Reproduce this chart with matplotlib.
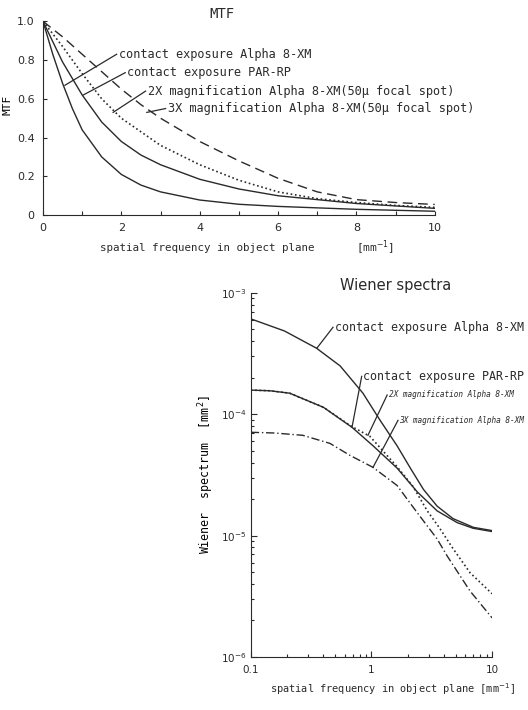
import numpy as np
import matplotlib
matplotlib.use('Agg')
import matplotlib.pyplot as plt
from matplotlib.ticker import FixedLocator, FuncFormatter, LogLocator, NullFormatter

# ---- MTF ----
f_a = [0, 0.25, 0.5, 0.75, 1, 1.5, 2, 2.5, 3, 4, 5, 6, 8, 10]
mtf_a = [1.0, 0.83, 0.68, 0.55, 0.44, 0.30, 0.21, 0.155, 0.12, 0.078, 0.056, 0.045, 0.03, 0.02]

f_b = [0, 0.5, 1, 1.5, 2, 2.5, 3, 4, 5, 6, 7, 8, 10]
mtf_b = [1.0, 0.79, 0.62, 0.48, 0.38, 0.31, 0.26, 0.185, 0.135, 0.10, 0.08, 0.06, 0.035]

f_c = [0, 0.5, 1, 1.5, 2, 3, 4, 5, 6, 7, 8, 9, 10]
mtf_c = [1.0, 0.87, 0.73, 0.60, 0.50, 0.36, 0.26, 0.18, 0.12, 0.085, 0.065, 0.05, 0.04]

f_d = [0, 0.5, 1, 1.5, 2, 2.5, 3, 4, 5, 6, 7, 8, 9, 10]
mtf_d = [1.0, 0.92, 0.83, 0.74, 0.65, 0.57, 0.50, 0.38, 0.28, 0.19, 0.12, 0.08, 0.065, 0.055]

mtf_labels = ['contact exposure Alpha 8-XM',
              'contact exposure PAR-RP',
              '2X magnification Alpha 8-XM(50\u00b5 focal spot)',
              '3X magnification Alpha 8-XM(50\u00b5 focal spot)']

# ---- Wiener spectra ----
w_fa = [0.1, 0.19, 0.35, 0.55, 0.85, 1.18, 1.63, 2.1, 2.7, 3.5, 4.75, 7.0, 10]
w_a = [6.1e-4, 4.85e-4, 3.5e-4, 2.5e-4, 1.49e-4, 8.9e-5, 5.5e-5, 3.6e-5, 2.4e-5, 1.75e-5, 1.38e-5, 1.17e-5, 1.1e-5]

w_fb = [0.1, 0.144, 0.21, 0.4, 0.69, 1.03, 1.63, 2.39, 3.5, 5.13, 6.95, 10]
w_b = [1.58e-4, 1.56e-4, 1.49e-4, 1.14e-4, 7.8e-5, 5.5e-5, 3.6e-5, 2.3e-5, 1.6e-5, 1.28e-5, 1.15e-5, 1.08e-5]

w_fc = [0.1, 0.144, 0.21, 0.4, 0.68, 0.97, 1.63, 2.21, 2.89, 3.7, 4.75, 6.56, 10]
w_c = [1.58e-4, 1.56e-4, 1.49e-4, 1.14e-4, 7.96e-5, 6.58e-5, 3.7e-5, 2.54e-5, 1.61e-5, 1.14e-5, 7.8e-6, 4.95e-6, 3.32e-6]

w_fd = [0.1, 0.158, 0.27, 0.453, 0.664, 1.03, 1.63, 2.39, 3.5, 4.24, 6.56, 10]
w_d = [7.1e-5, 7.0e-5, 6.7e-5, 5.75e-5, 4.58e-5, 3.65e-5, 2.59e-5, 1.55e-5, 9.4e-6, 6.8e-6, 3.5e-6, 2.1e-6]

w_labels = ['contact exposure Alpha 8-XM',
            'contact exposure PAR-RP',
            '2X magnification Alpha 8-XM',
            '3X magnification Alpha 8-XM']

ink = '#2a2a2a'
mono = ['DejaVu Sans Mono']
plt.rcParams['font.family'] = ['DejaVu Sans']
plt.rcParams['text.color'] = ink
plt.rcParams['axes.edgecolor'] = ink
plt.rcParams['xtick.color'] = ink
plt.rcParams['ytick.color'] = ink

fig = plt.figure(figsize=(5.28, 7.10), dpi=100)

# ---------------- MTF ----------------
ax1 = fig.add_axes([0.0814, 0.697, 0.742, 0.273])
ax1.plot(f_a, mtf_a, color=ink, lw=1.0)
ax1.plot(f_b, mtf_b, color=ink, lw=1.0)
ax1.plot(f_c, mtf_c, color=ink, lw=1.2, linestyle=(0, (1, 1.6)))
ax1.plot(f_d, mtf_d, color=ink, lw=1.0, linestyle=(0, (7, 4)))
ax1.set_xlim(0, 10)
ax1.set_ylim(0, 1.0)
for s in ['top', 'right']:
    ax1.spines[s].set_visible(False)
ax1.xaxis.set_major_locator(FixedLocator([0, 2, 4, 6, 8, 10]))
ax1.xaxis.set_minor_locator(FixedLocator([1, 3, 5, 7, 9]))
ax1.yaxis.set_major_locator(FixedLocator([0, 0.2, 0.4, 0.6, 0.8, 1.0]))
ax1.xaxis.set_major_formatter(FuncFormatter(lambda v, p: '%d' % v))
ax1.yaxis.set_major_formatter(FuncFormatter(lambda v, p: '0' if v == 0 else '%.1f' % v))
ax1.tick_params(which='both', direction='in', length=3, width=0.8, labelsize=8, pad=6)
ax1.set_title('MTF', fontsize=10, pad=2, x=0.457, family=mono)
ax1.set_ylabel('MTF', fontsize=8, family=mono)
ax1.yaxis.set_label_coords(-0.077, 0.57)
ax1.text(1.45, -0.17, 'spatial frequency in object plane', fontsize=7.8, va='center', family=mono)
ax1.text(8.0, -0.17, '[mm$^{-1}$]', fontsize=8, va='center', family=mono)

# leader lines + labels (from curve point to label start)
mtf_leaders = [((0.56, 0.67), (1.88, 0.83)),
               ((1.03, 0.62), (2.10, 0.735)),
               ((1.79, 0.53), (2.62, 0.64)),
               ((2.65, 0.53), (3.13, 0.55))]
for (p0, p1), lab in zip(mtf_leaders, mtf_labels):
    ax1.plot([p0[0], p1[0]], [p0[1], p1[1]], color=ink, lw=0.9)
    ax1.text(p1[0] + 0.05, p1[1], lab, fontsize=8.6, va='center', family=mono)

# ---------------- Wiener spectra ----------------
ax2 = fig.add_axes([0.475, 0.0746, 0.457, 0.513])
ax2.loglog(w_fa, w_a, color=ink, lw=1.0)
ax2.loglog(w_fb, w_b, color=ink, lw=1.0)
ax2.loglog(w_fc, w_c, color=ink, lw=1.2, linestyle=(0, (1, 1.6)))
ax2.loglog(w_fd, w_d, color=ink, lw=1.0, linestyle=(0, (6, 2, 1, 2)))
ax2.set_xlim(0.1, 10)
ax2.set_ylim(1e-6, 1e-3)
for s in ['top', 'right']:
    ax2.spines[s].set_visible(False)
ax2.xaxis.set_major_locator(FixedLocator([0.1, 1, 10]))
ax2.xaxis.set_major_formatter(FuncFormatter(lambda v, p: {0.1: '0.1', 1: '1', 10: '10'}.get(round(v, 1), '')))
ax2.xaxis.set_minor_locator(LogLocator(base=10, subs=np.arange(2, 10)))
ax2.xaxis.set_minor_formatter(NullFormatter())
ax2.yaxis.set_minor_locator(LogLocator(base=10, subs=np.arange(2, 10)))
ax2.yaxis.set_minor_formatter(NullFormatter())
ax2.tick_params(which='both', direction='in', width=0.8, labelsize=7.5)
ax2.tick_params(axis='x', pad=6)
ax2.tick_params(axis='y', pad=3)
ax2.tick_params(which='major', length=4)
ax2.tick_params(which='minor', length=2.5)
ax2.set_title('Wiener spectra', fontsize=10.5, pad=2, x=0.6)
ax2.set_ylabel('Wiener  spectrum  [mm$^{2}$]', fontsize=8.4, family=mono)
ax2.yaxis.set_label_coords(-0.145, 0.5)
ax2.text(0.08, -0.087, 'spatial frequency in object plane [mm$^{-1}$]', fontsize=7.4,
         va='center', family=mono, transform=ax2.transAxes)

w_leaders = [((0.353, 3.5e-4), (0.48, 5.2e-4)),
             ((0.69, 7.8e-5), (0.83, 2.05e-4)),
             ((0.935, 6.7e-5), (1.35, 1.44e-4)),
             ((1.03, 3.65e-5), (1.66, 8.9e-5))]
w_sizes = [8.4, 8.4, 5.6, 5.6]
w_styles = ['normal', 'normal', 'italic', 'italic']
for (p0, p1), lab, fs, st in zip(w_leaders, w_labels, w_sizes, w_styles):
    ax2.plot([p0[0], p1[0]], [p0[1], p1[1]], color=ink, lw=0.9)
    ax2.text(p1[0] * 1.03, p1[1], lab, fontsize=fs, style=st, va='center', family=mono)

fig.savefig('out.png', dpi=100)
